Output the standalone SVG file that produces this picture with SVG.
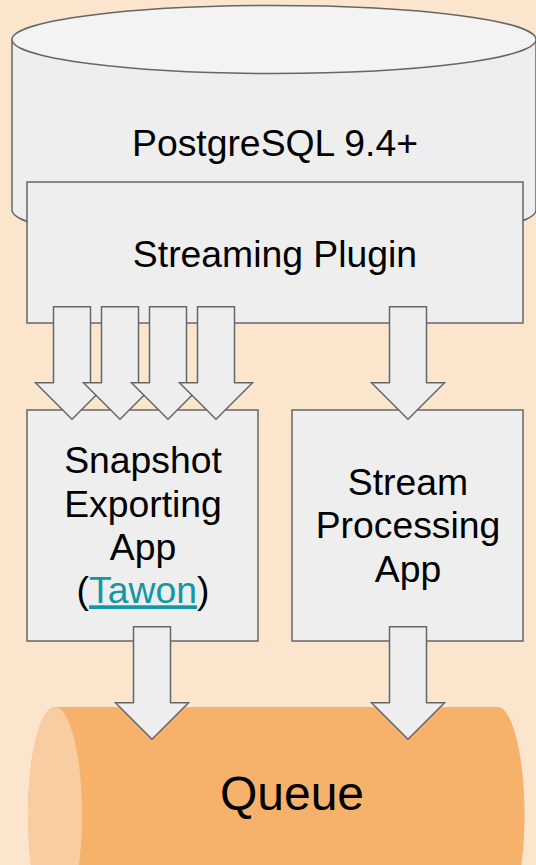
<svg xmlns="http://www.w3.org/2000/svg" xmlns:xlink="http://www.w3.org/1999/xlink" width="536" height="865" viewBox="0 0 536 865">
  <style>
    .shape { fill: #eeeeee; stroke: #666666; stroke-width: 1.5; }
    .lbl { font-family: "Liberation Sans", Arial, sans-serif; font-size: 37.33px; fill: #000000; text-anchor: middle; }
    .link { fill: #1297a6; text-decoration: underline; }
    .arrow { fill: #eeeeee; stroke: #666666; stroke-width: 1.5; stroke-linejoin: miter; }
  </style>
  <defs>
    <path id="blockArrow" d="M-18.5,0 H18.5 V76 H36.5 L0,112.6 L-36.5,76 H-18.5 Z"/>
  </defs>
  <rect x="0" y="0" width="536" height="865" fill="#fce5cd"/>

  <g id="postgresql">
    <path class="shape" d="M12,39.5 V210 A262,34 0 0 0 536,210 V39.5 Z"/>
    <ellipse cx="274" cy="39.5" rx="262" ry="34" fill="#f3f3f3" stroke="#666666" stroke-width="1.5"/>
    <text class="lbl" x="275" y="156">PostgreSQL 9.4+</text>
  </g>

  <g id="streaming-plugin">
    <rect class="shape" x="27" y="182" width="496" height="141"/>
    <text class="lbl" x="275" y="267">Streaming Plugin</text>
  </g>

  <g id="snapshot-app">
    <rect class="shape" x="27" y="410" width="231" height="231"/>
    <text class="lbl" x="143" y="473.3">Snapshot</text>
    <text class="lbl" x="143" y="516.7">Exporting</text>
    <text class="lbl" x="143" y="560">App</text>
    <text class="lbl" x="143" y="603.3">(<tspan class="link">Tawon</tspan>)</text>
  </g>

  <g id="stream-app">
    <rect class="shape" x="292" y="410" width="231" height="231"/>
    <text class="lbl" x="408" y="495">Stream</text>
    <text class="lbl" x="408" y="538.3">Processing</text>
    <text class="lbl" x="408" y="581.6">App</text>
  </g>

  <g id="queue">
    <path d="M55,707 H497.5 A27,108 0 0 1 497.5,923 H55 A27,108 0 0 1 55,707 Z" fill="#f6b26b"/>
    <ellipse cx="55" cy="815" rx="27" ry="108" fill="#f8cda1"/>
    <text class="lbl" x="292" y="810" style="font-size:48px">Queue</text>
  </g>

  <g id="connectors">
    <use xlink:href="#blockArrow" href="#blockArrow" class="arrow" x="72" y="306.7"/>
    <use xlink:href="#blockArrow" href="#blockArrow" class="arrow" x="120" y="306.7"/>
    <use xlink:href="#blockArrow" href="#blockArrow" class="arrow" x="168" y="306.7"/>
    <use xlink:href="#blockArrow" href="#blockArrow" class="arrow" x="216" y="306.7"/>
    <use xlink:href="#blockArrow" href="#blockArrow" class="arrow" x="408" y="306.7"/>
    <use xlink:href="#blockArrow" href="#blockArrow" class="arrow" x="152" y="626.7"/>
    <use xlink:href="#blockArrow" href="#blockArrow" class="arrow" x="408" y="626.7"/>
  </g>
</svg>
